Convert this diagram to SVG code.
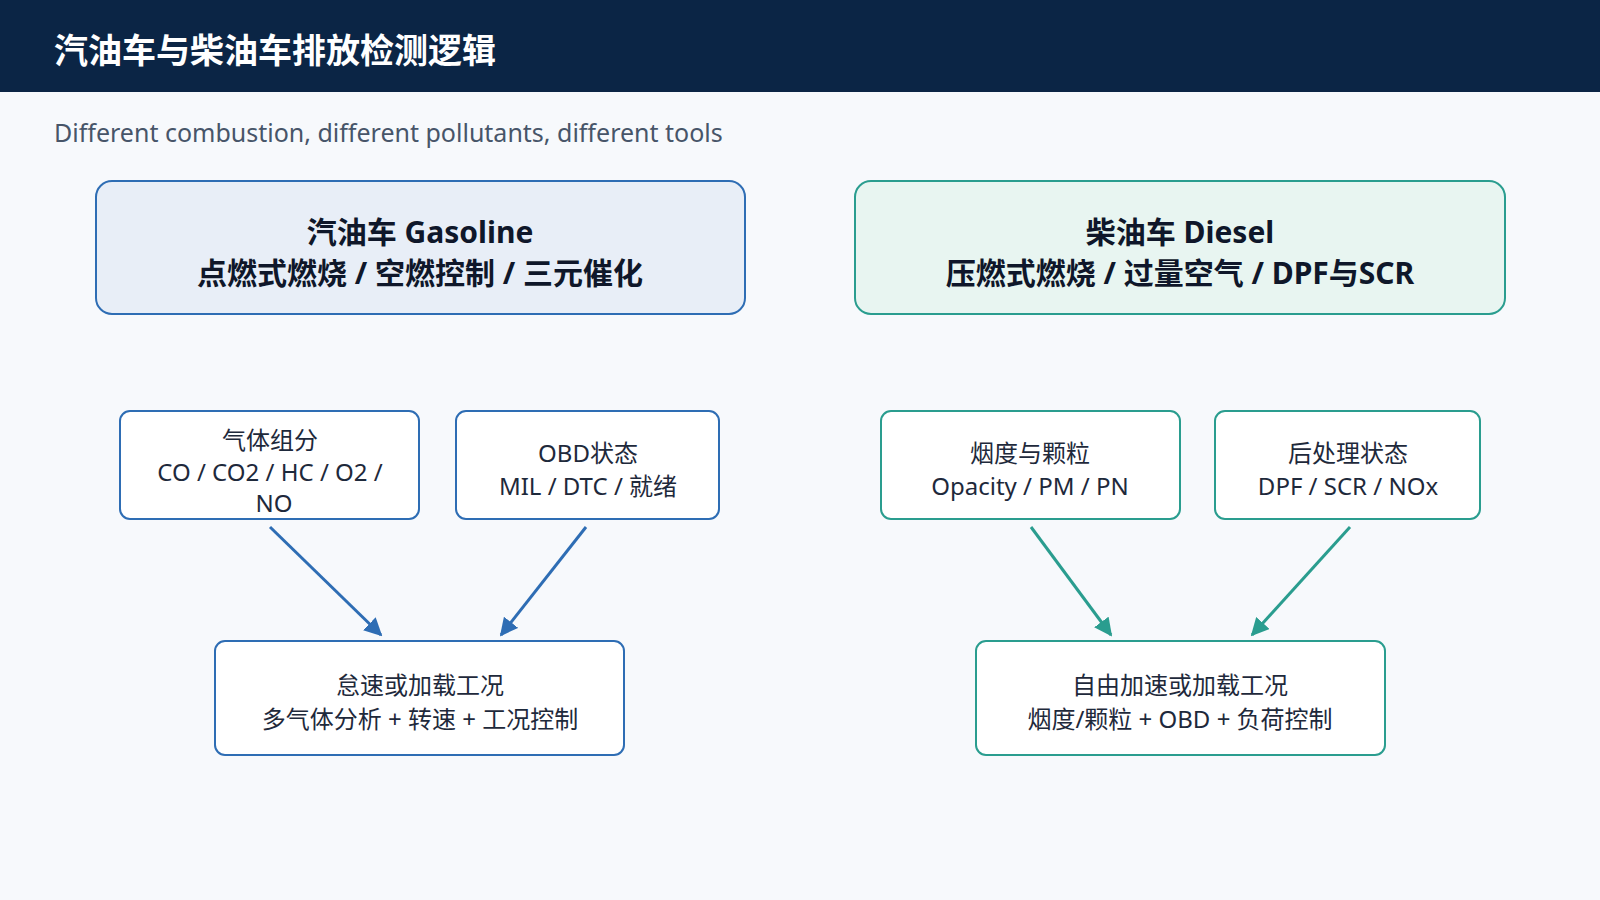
<svg xmlns="http://www.w3.org/2000/svg" width="1600" height="900" viewBox="0 0 1600 900">
<defs>
<style>
text{font-family:"Noto Sans","Noto Sans CJK SC",sans-serif;text-anchor:middle;fill:#1e293b}
.big{font-size:30px;font-weight:bold;fill:#0f172a}
.sm{font-size:24px}
.bl{fill:#fff;stroke:#2e6db4;stroke-width:2}
.gr{fill:#fff;stroke:#2a9d8f;stroke-width:2}
.ab{stroke:#2e6db4;stroke-width:3;fill:none;marker-end:url(#mb)}
.ag{stroke:#2a9d8f;stroke-width:3;fill:none;marker-end:url(#mg)}
</style>
<marker id="mb" viewBox="0 0 10 10" refX="9" refY="5" markerWidth="6" markerHeight="6" orient="auto"><path d="M0,0L10,5L0,10z" fill="#2e6db4"/></marker>
<marker id="mg" viewBox="0 0 10 10" refX="9" refY="5" markerWidth="6" markerHeight="6" orient="auto"><path d="M0,0L10,5L0,10z" fill="#2a9d8f"/></marker>
</defs>
<rect width="1600" height="900" fill="#f7f9fc"/>
<rect width="1600" height="92" fill="#0b2545"/>
<text x="54" y="63" style="font-size:34px;font-weight:bold;fill:#fff;text-anchor:start">汽油车与柴油车排放检测逻辑</text>
<text x="54" y="142" style="font-size:25px;fill:#475569;text-anchor:start">Different combustion, different pollutants, different tools</text>
<g id="gasoline">
<rect x="96" y="181" width="649" height="133" rx="16" fill="#e8eef7" stroke="#2e6db4" stroke-width="2"/>
<text class="big" x="420" y="243">汽油车 Gasoline</text>
<text class="big" x="420" y="284">点燃式燃烧 / 空燃控制 / 三元催化</text>
</g>
<g id="diesel">
<rect x="855" y="181" width="650" height="133" rx="16" fill="#e8f5f1" stroke="#2a9d8f" stroke-width="2"/>
<text class="big" x="1180" y="243">柴油车 Diesel</text>
<text class="big" x="1180" y="284">压燃式燃烧 / 过量空气 / DPF与SCR</text>
</g>
<g id="gas-comp">
<rect class="bl" x="120" y="411" width="299" height="108" rx="10"/>
<text class="sm" x="270" y="449">气体组分</text>
<text class="sm" x="270" y="481">CO / CO2 / HC / O2 /</text>
<text class="sm" x="274" y="512">NO</text>
</g>
<g id="obd">
<rect class="bl" x="456" y="411" width="263" height="108" rx="10"/>
<text class="sm" x="588" y="462">OBD状态</text>
<text class="sm" x="588" y="495">MIL / DTC / 就绪</text>
</g>
<g id="opacity">
<rect class="gr" x="881" y="411" width="299" height="108" rx="10"/>
<text class="sm" x="1030" y="462">烟度与颗粒</text>
<text class="sm" x="1030" y="495">Opacity / PM / PN</text>
</g>
<g id="after">
<rect class="gr" x="1215" y="411" width="265" height="108" rx="10"/>
<text class="sm" x="1348" y="462">后处理状态</text>
<text class="sm" x="1348" y="495">DPF / SCR / NOx</text>
</g>
<g id="gas-test">
<rect class="bl" x="215" y="641" width="409" height="114" rx="10"/>
<text class="sm" x="420" y="694">怠速或加载工况</text>
<text class="sm" x="420" y="728">多气体分析 + 转速 + 工况控制</text>
</g>
<g id="diesel-test">
<rect class="gr" x="976" y="641" width="409" height="114" rx="10"/>
<text class="sm" x="1180" y="694">自由加速或加载工况</text>
<text class="sm" x="1180" y="728">烟度/颗粒 + OBD + 负荷控制</text>
</g>
<g id="connectors">
<line class="ab" x1="270" y1="527" x2="381" y2="635"/>
<line class="ab" x1="586" y1="527" x2="501" y2="635"/>
<line class="ag" x1="1031" y1="527" x2="1111" y2="635"/>
<line class="ag" x1="1350" y1="527" x2="1252" y2="635"/>
</g>
</svg>
